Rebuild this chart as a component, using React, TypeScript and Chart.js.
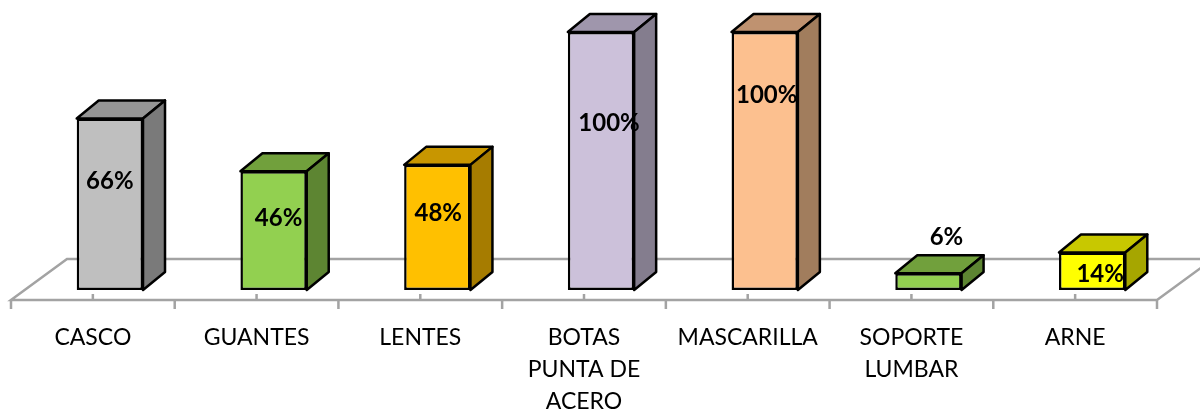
import React, { useEffect, useRef } from "react";
import { Chart, registerables } from "chart.js";

Chart.register(...registerables);

const categories: (string | string[])[] = [
  "CASCO",
  "GUANTES",
  "LENTES",
  ["BOTAS", "PUNTA DE", "ACERO"],
  "MASCARILLA",
  ["SOPORTE", "LUMBAR"],
  "ARNE",
];
const percentValues = [0.665, 0.46, 0.485, 1, 1, 0.065, 0.145];
const valueLabels = ["66%", "46%", "48%", "100%", "100%", "6%", "14%"];
const frontColors = ["#BFBFBF", "#92D050", "#FFC000", "#CCC1DA", "#FCC08F", "#92D050", "#FFFF00"];
const topColors = ["#959595", "#71A03C", "#C89600", "#9F96AC", "#BF9270", "#71A03C", "#C8C800"];
const sideColors = ["#7A7A7A", "#5D8532", "#A67C00", "#847D8E", "#A17D5D", "#5D8532", "#A6A600"];

const DEPTH_X = 22;
const DEPTH_Y = 18;
const SHIFT = 17;
const FLOOR_DROP = 10;
const GREY = "#A3A3A3";
const EDGE = 2.5;

// label placement relative to the top-centre of each bar's front face
const labelOffsets: [number, number][] = [
  [0, 63],
  [5, 47],
  [1, 48],
  [8, 91],
  [2, 63],
  [18, -36],
  [8, 22],
];

const cubePlugin = {
  id: "cube",
  beforeDatasetsDraw(chart: any) {
    const { ctx, chartArea, scales } = chart;
    const x = scales.x;
    const front = chartArea.bottom + FLOOR_DROP;
    const back = front - 41;
    const left = chartArea.left - SHIFT;
    const right = chartArea.right - SHIFT;
    ctx.save();
    ctx.strokeStyle = GREY;
    ctx.lineWidth = EDGE;
    ctx.beginPath();
    ctx.moveTo(right, front);
    ctx.lineTo(left, front);
    ctx.lineTo(left + 56, back);
    ctx.lineTo(right + 56, back);
    ctx.lineTo(right, front);
    const step = (chartArea.right - chartArea.left) / categories.length;
    for (let i = 0; i < categories.length; i++) {
      const c = x.getPixelForTick(i) - SHIFT;
      ctx.moveTo(c - step / 2, front);
      ctx.lineTo(c - step / 2, front + 9);
      ctx.moveTo(c, front - 6);
      ctx.lineTo(c, front);
    }
    ctx.moveTo(right, front);
    ctx.lineTo(right, front + 9);
    ctx.stroke();

    const meta = chart.getDatasetMeta(0);
    meta.data.forEach((bar: any, i: number) => {
      const l = bar.x - bar.width / 2;
      const r = bar.x + bar.width / 2;
      const t = bar.y;
      const b = bar.base;
      ctx.strokeStyle = "#000";
      ctx.lineWidth = EDGE;
      ctx.lineJoin = "round";
      ctx.fillStyle = topColors[i];
      ctx.beginPath();
      ctx.moveTo(l, t);
      ctx.lineTo(l + DEPTH_X, t - DEPTH_Y);
      ctx.lineTo(r + DEPTH_X, t - DEPTH_Y);
      ctx.lineTo(r, t);
      ctx.closePath();
      ctx.fill();
      ctx.stroke();
      ctx.fillStyle = sideColors[i];
      ctx.beginPath();
      ctx.moveTo(r, t);
      ctx.lineTo(r + DEPTH_X, t - DEPTH_Y);
      ctx.lineTo(r + DEPTH_X, b - DEPTH_Y);
      ctx.lineTo(r, b);
      ctx.closePath();
      ctx.fill();
      ctx.stroke();
    });
    ctx.restore();
  },
  afterDatasetsDraw(chart: any) {
    const { ctx } = chart;
    const meta = chart.getDatasetMeta(0);
    ctx.save();
    ctx.fillStyle = "#000";
    ctx.font = "bold 24px Lato";
    ctx.textAlign = "center";
    ctx.textBaseline = "middle";
    meta.data.forEach((bar: any, i: number) => {
      const [dx, dy] = labelOffsets[i];
      ctx.fillText(valueLabels[i], bar.x + dx, bar.y + dy);
    });
    ctx.restore();
  },
};

export default function App() {
  const ref = useRef<HTMLCanvasElement | null>(null);
  useEffect(() => {
    document.body.style.margin = "0";
    const chart = new Chart(ref.current as HTMLCanvasElement, {
      type: "bar",
      data: {
        labels: categories as any,
        datasets: [
          {
            data: percentValues,
            backgroundColor: frontColors,
            borderColor: "#000",
            borderWidth: EDGE,
            borderSkipped: false,
            barPercentage: 1,
            categoryPercentage: 0.405,
            clip: false as any,
          },
        ],
      },
      options: {
        animation: false,
        responsive: false,
        layout: { padding: { left: 28, right: 26, top: 32, bottom: 0 } },
        plugins: { legend: { display: false }, tooltip: { enabled: false } },
        scales: {
          x: {
            grid: { display: false },
            border: { display: false },
            afterFit: (s: any) => {
              s.height = 119;
            },
            ticks: {
              autoSkip: false,
              maxRotation: 0,
              minRotation: 0,
              labelOffset: -SHIFT,
              padding: 23,
              color: "#000",
              font: { family: "Lato", size: 23, lineHeight: 1.41 },
            },
          },
          y: { display: false, min: 0, max: 1 },
        },
      },
      plugins: [cubePlugin],
    });
    return () => chart.destroy();
  }, []);
  return <canvas ref={ref} width={1200} height={409} style={{ display: "block" }} />;
}
